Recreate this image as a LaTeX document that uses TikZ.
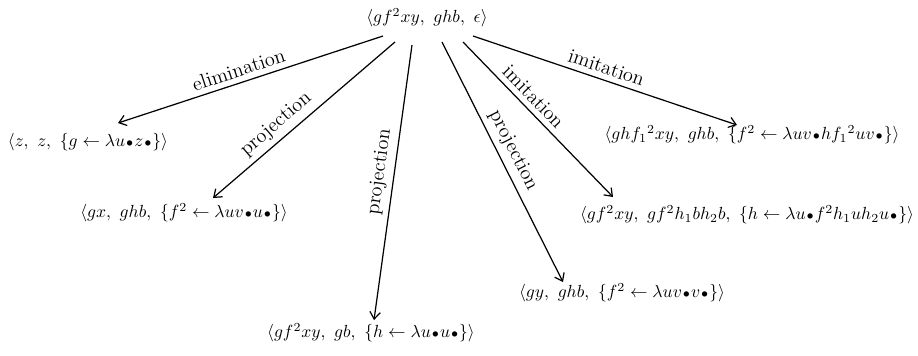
\documentclass[tikz,border=0pt]{standalone}
\usepackage{amsmath,amssymb}
\usepackage{tikz}
\usetikzlibrary{arrows.meta,calc}
\newcommand{\bdot}{\mkern1mu{\scriptstyle\bullet}\mkern1mu}

\begin{document}
\begin{tikzpicture}[x=0.57pt,y=-0.57pt, every node/.style={inner sep=0pt},
  lab/.style={sloped,above=3pt,font=\fontsize{11.5}{14}\selectfont},
  >={Straight Barb[length=4pt,width=6pt]}, line width=0.7pt]
  \useasboundingbox (0,0) rectangle (918,355);
  \node (root) at (427,18) {$\langle gf^2xy,\ ghb,\ \epsilon\rangle$};
  \node (elim) at (88,142) {$\langle z,\ z,\ \{g \leftarrow \lambda u\bdot z\bdot\}\rangle$};
  \node (projl) at (184,213) {$\langle gx,\ ghb,\ \{f^2 \leftarrow \lambda uv\bdot u\bdot\}\rangle$};
  \node (projm) at (371,333) {$\langle gf^2xy,\ gb,\ \{h \leftarrow \lambda u\bdot u\bdot\}\rangle$};
  \node (projr) at (622,293) {$\langle gy,\ ghb,\ \{f^2 \leftarrow \lambda uv\bdot v\bdot\}\rangle$};
  \node (imitl) at (747,215) {$\langle gf^2xy,\ gf^2h_1bh_2b,\ \{h \leftarrow \lambda u\bdot f^2h_1uh_2u\bdot\}\rangle$};
  \node (imitr) at (752,135) {$\langle ghf_1{}^2xy,\ ghb,\ \{f^2 \leftarrow \lambda uv\bdot hf_1{}^2uv\bdot\}\rangle$};
  % arcs out of the root
  \draw[->] ($(root)+(-44,18)$) -- node[lab,pos=.53] {elimination} ($(elim)+(30,-19)$);
  \draw[->] ($(root)+(-32,24)$) -- node[lab,pos=.6] {projection} ($(projl)+(29,-15)$);
  \draw[->] ($(root)+(-15,27)$) -- node[lab,pos=.47] {projection} ($(projm)+(3,-13)$);
  \draw[->] ($(root)+(15,24)$) -- node[lab,pos=.48] {projection} ($(projr)+(-59,-11)$);
  \draw[->] ($(root)+(36,24)$) -- node[lab,pos=.41] {imitation} ($(imitl)+(-134,-18)$);
  \draw[->] ($(root)+(46,18)$) -- node[lab,pos=.49] {imitation} ($(imitr)+(-15,-10)$);
\end{tikzpicture}
\end{document}
